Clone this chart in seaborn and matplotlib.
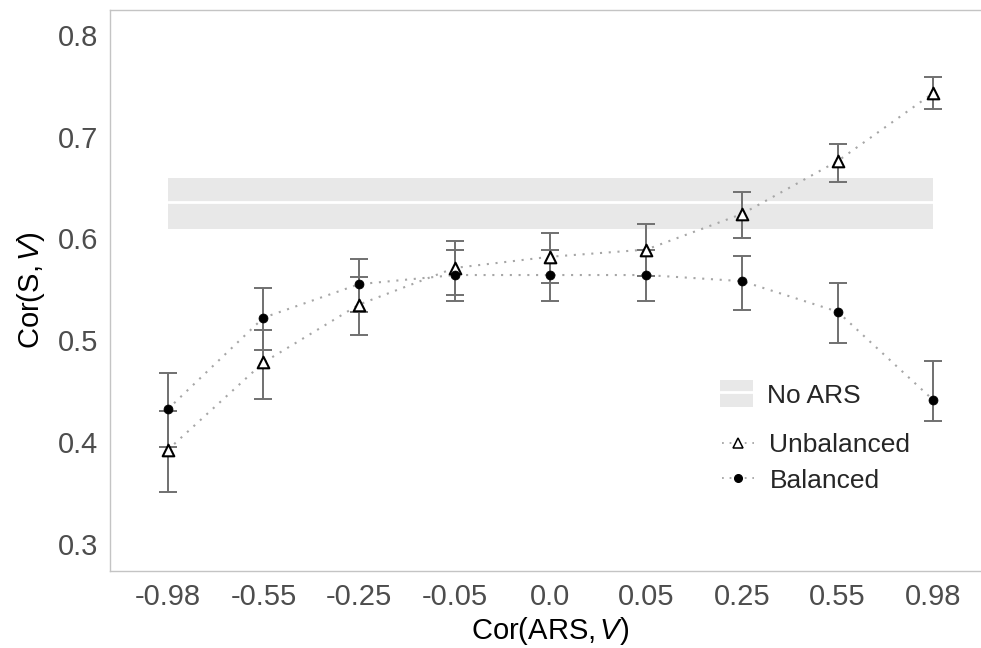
import numpy as np
import pandas as pd
import matplotlib
matplotlib.use('Agg')
import matplotlib.pyplot as plt
import seaborn as sns
from matplotlib.patches import Patch
from matplotlib.lines import Line2D

# values
cor_ars = ['-0.98', '-0.55', '-0.25', '-0.05', '0.0', '0.05', '0.25', '0.55', '0.98']
unbal = [0.392, 0.478, 0.535, 0.571, 0.582, 0.589, 0.624, 0.676, 0.743]
unbal_lo = [0.351, 0.442, 0.505, 0.544, 0.556, 0.563, 0.600, 0.655, 0.727]
unbal_hi = [0.430, 0.510, 0.562, 0.597, 0.605, 0.614, 0.646, 0.693, 0.759]
bal = [0.432, 0.522, 0.555, 0.564, 0.564, 0.564, 0.558, 0.528, 0.441]
bal_lo = [0.395, 0.490, 0.528, 0.538, 0.538, 0.538, 0.530, 0.497, 0.420]
bal_hi = [0.468, 0.551, 0.580, 0.589, 0.589, 0.589, 0.583, 0.556, 0.479]
no_ars = 0.636
no_ars_lo = 0.609
no_ars_hi = 0.659

sns.set_style('white')
plt.rcParams['font.family'] = ['Liberation Sans', 'DejaVu Sans']
plt.rcParams['mathtext.fontset'] = 'custom'
plt.rcParams['mathtext.rm'] = 'Liberation Sans'
plt.rcParams['mathtext.it'] = 'Liberation Sans:italic'

df = pd.DataFrame({'x': cor_ars, 'unbal': unbal, 'unbal_lo': unbal_lo, 'unbal_hi': unbal_hi,
                   'bal': bal, 'bal_lo': bal_lo, 'bal_hi': bal_hi})
df['pos'] = np.arange(len(df))

fig = plt.figure(figsize=(9.81, 6.48), dpi=100)
ax = fig.add_axes([0.1124, 0.1193, 0.8975, 0.8653])

# No ARS band
ax.fill_between(df['pos'], no_ars_lo, no_ars_hi, color='#e8e8e8', lw=0, zorder=1)
ax.plot(df['pos'], [no_ars] * len(df), color='white', lw=2, zorder=1.5)

dots = (0, (1, 3.2))
sns.lineplot(data=df, x='pos', y='unbal', ax=ax, color='#a6a6a6', lw=1.5, linestyle=dots, zorder=2)
sns.lineplot(data=df, x='pos', y='bal', ax=ax, color='#a6a6a6', lw=1.5, linestyle=dots, zorder=2)

ebar = dict(fmt='none', ecolor='#707070', elinewidth=1.4, capsize=6.8, capthick=1.4, zorder=3)
ax.errorbar(df['pos'], df['unbal'], yerr=[df['unbal'] - df['unbal_lo'], df['unbal_hi'] - df['unbal']], **ebar)
ax.errorbar(df['pos'], df['bal'], yerr=[df['bal'] - df['bal_lo'], df['bal_hi'] - df['bal']], **ebar)

sns.scatterplot(data=df, x='pos', y='unbal', ax=ax, marker='^', s=70, facecolor='white',
                edgecolor='black', linewidth=1.5, zorder=4)
sns.scatterplot(data=df, x='pos', y='bal', ax=ax, marker='o', s=42, color='black',
                edgecolor='black', linewidth=0.5, zorder=4)

ax.set_xlim(-0.6, 8.6)
ax.set_ylim(0.2733, 0.8246)
ax.set_xticks(df['pos'])
ax.set_xticklabels(cor_ars)
ax.set_yticks([0.3, 0.4, 0.5, 0.6, 0.7, 0.8])
ax.set_yticklabels(['0.3', '0.4', '0.5', '0.6', '0.7', '0.8'])
ax.tick_params(axis='both', length=3.6, width=1, color='#8c8c8c', labelsize=21,
               labelcolor='#4d4d4d', pad=5)
for s in ax.spines.values():
    s.set_color('#c4c4c4')
    s.set_linewidth(1)
ax.set_xlabel('Cor(ARS,$\\,V$)', fontsize=21, color='black', labelpad=3)
ax.set_ylabel('Cor(S,$\\,V$)', fontsize=21, color='black', labelpad=8)

# legends
h1 = (Patch(facecolor='#e8e8e8', edgecolor='none'), Line2D([], [], color='white', lw=2))
leg1 = ax.legend([h1], ['No ARS'], loc='center left', bbox_to_anchor=(0.6925, 0.315),
                 frameon=False, fontsize=19, handlelength=1.25, handleheight=1.2,
                 handletextpad=0.55, borderpad=0, borderaxespad=0)
ax.add_artist(leg1)
h2 = Line2D([], [], color='#a6a6a6', lw=1.3, linestyle=dots, marker='^', markersize=7,
            markerfacecolor='white', markeredgecolor='black', markeredgewidth=1.1)
h3 = Line2D([], [], color='#a6a6a6', lw=1.3, linestyle=dots, marker='o', markersize=5.5,
            markerfacecolor='black', markeredgecolor='black')
ax.legend([h2, h3], ['Unbalanced', 'Balanced'], loc='center left', bbox_to_anchor=(0.6948, 0.192),
          frameon=False, fontsize=19, handlelength=1.2, handletextpad=0.6, labelspacing=0.42,
          borderpad=0, borderaxespad=0, numpoints=1)

plt.savefig('out.png', dpi=100)
